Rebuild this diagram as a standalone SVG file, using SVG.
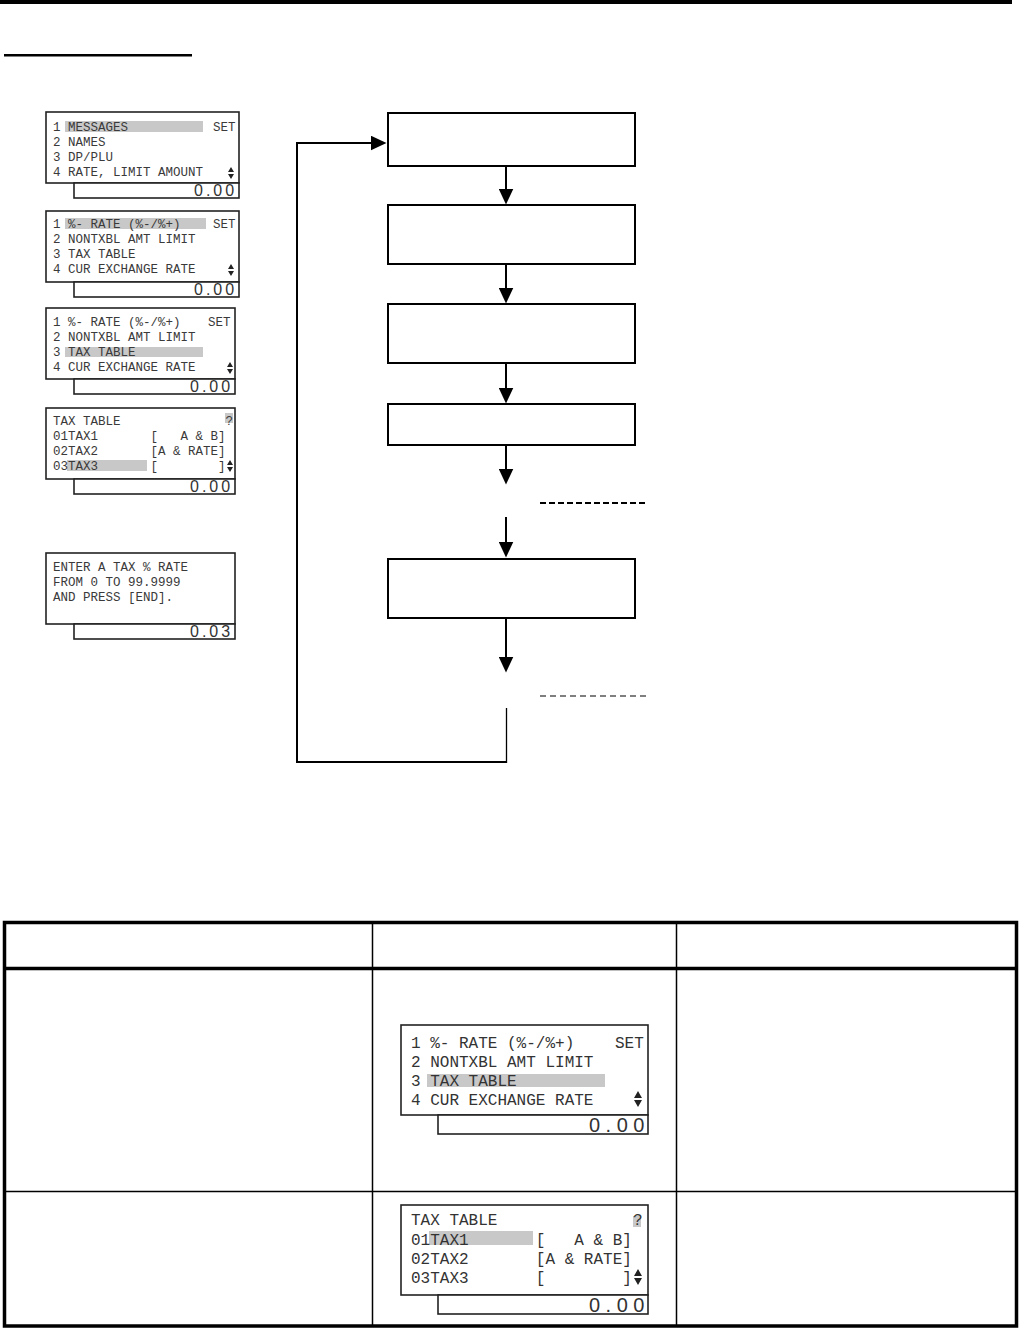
<svg xmlns="http://www.w3.org/2000/svg" width="1019" height="1328" viewBox="0 0 1019 1328">
<style>
.lcd{fill:#fff;stroke:#222;stroke-width:1.6}
.hl{fill:#c8c8c8}
.t{font-family:"Liberation Mono","Courier New",monospace;font-size:12.5px;fill:#3a3a3a}
.tb{font-family:"Liberation Mono","Courier New",monospace;font-size:16px;fill:#333}
.amt{font-family:"Liberation Sans",Arial,sans-serif;font-size:16px;letter-spacing:3px;fill:#333}
.amtb{font-family:"Liberation Sans",Arial,sans-serif;font-size:20px;letter-spacing:5.5px;fill:#333}
.dia{fill:#222}
.box{fill:#fff;stroke:#000;stroke-width:2}
.ln{fill:none;stroke:#000;stroke-width:2}
.tbl{fill:none;stroke:#000}
</style>
<defs>
<marker id="ah" markerUnits="userSpaceOnUse" viewBox="0 0 16 15" markerWidth="16" markerHeight="15" refX="0.5" refY="7.5" orient="auto">
<path d="M0,0 L16,7.5 L0,15 z" fill="#000"/>
</marker>
</defs>

<rect x="0" y="0" width="1012" height="4" fill="#000"/>
<rect x="4" y="54" width="188" height="2.5" fill="#000"/>

<!-- left screens -->
<g id="screen1" transform="translate(46,112)">
<rect class="lcd" x="0" y="0" width="193" height="71"/>
<rect class="lcd" x="28" y="71" width="165" height="15"/>
<rect class="hl" x="19" y="9" width="138" height="11"/>
<text class="t" x="7" y="19">1 MESSAGES</text>
<text class="t" x="167" y="19">SET</text>
<text class="t" x="7" y="34">2 NAMES</text>
<text class="t" x="7" y="49">3 DP/PLU</text>
<text class="t" x="7" y="64">4 RATE, LIMIT AMOUNT</text>
<path class="dia" d="M182,60 L188,60 L185,55 z M182,62 L188,62 L185,67 z"/>
<text class="amt" x="148" y="84">0.00</text>
</g>

<g id="screen2" transform="translate(46,211)">
<rect class="lcd" x="0" y="0" width="193" height="71"/>
<rect class="lcd" x="28" y="71" width="165" height="15"/>
<rect class="hl" x="19" y="7" width="141" height="11"/>
<text class="t" x="7" y="17">1 %- RATE (%-/%+)</text>
<text class="t" x="167" y="17">SET</text>
<text class="t" x="7" y="32">2 NONTXBL AMT LIMIT</text>
<text class="t" x="7" y="47">3 TAX TABLE</text>
<text class="t" x="7" y="62">4 CUR EXCHANGE RATE</text>
<path class="dia" d="M182,58 L188,58 L185,53 z M182,60 L188,60 L185,65 z"/>
<text class="amt" x="148" y="84">0.00</text>
</g>

<g id="screen3" transform="translate(46,308)">
<rect class="lcd" x="0" y="0" width="189" height="71"/>
<rect class="lcd" x="28" y="71" width="161" height="15"/>
<rect class="hl" x="19" y="39" width="138" height="10"/>
<text class="t" x="7" y="18">1 %- RATE (%-/%+)</text>
<text class="t" x="162" y="18">SET</text>
<text class="t" x="7" y="33">2 NONTXBL AMT LIMIT</text>
<text class="t" x="7" y="48">3 TAX TABLE</text>
<text class="t" x="7" y="63">4 CUR EXCHANGE RATE</text>
<path class="dia" d="M181,59 L187,59 L184,54 z M181,61 L187,61 L184,66 z"/>
<text class="amt" x="144" y="84">0.00</text>
</g>

<g id="screen4" transform="translate(46,408)">
<rect class="lcd" x="0" y="0" width="189" height="71"/>
<rect class="lcd" x="28" y="71" width="161" height="15"/>
<rect class="hl" x="179" y="5" width="8" height="10"/>
<rect class="hl" x="21" y="52" width="80" height="11"/>
<text class="t" x="7" y="17">TAX TABLE</text>
<text class="t" x="179.5" y="17">?</text>
<text class="t" x="7" y="32" xml:space="preserve">01TAX1       [   A &amp; B]</text>
<text class="t" x="7" y="47" xml:space="preserve">02TAX2       [A &amp; RATE]</text>
<text class="t" x="7" y="62" xml:space="preserve">03TAX3       [        ]</text>
<path class="dia" d="M181,57 L187,57 L184,52 z M181,59 L187,59 L184,64 z"/>
<text class="amt" x="144" y="84">0.00</text>
</g>

<g id="screen5" transform="translate(46,553)">
<rect class="lcd" x="0" y="0" width="189" height="71"/>
<rect class="lcd" x="28" y="71" width="161" height="15"/>
<text class="t" x="7" y="18">ENTER A TAX % RATE</text>
<text class="t" x="7" y="33">FROM 0 TO 99.9999</text>
<text class="t" x="7" y="48">AND PRESS [END].</text>
<text class="amt" x="144" y="84">0.03</text>
</g>

<!-- flowchart nodes -->
<g id="step1"><rect class="box" x="388" y="113" width="247" height="53"/></g>
<g id="step2"><rect class="box" x="388" y="205" width="247" height="59"/></g>
<g id="step3"><rect class="box" x="388" y="304" width="247" height="59"/></g>
<g id="step4"><rect class="box" x="388" y="404" width="247" height="41"/></g>
<g id="step5"><rect class="box" x="388" y="559" width="247" height="59"/></g>

<!-- connectors -->
<g id="connectors">
<line class="ln" x1="506" y1="166" x2="506" y2="189" marker-end="url(#ah)"/>
<line class="ln" x1="506" y1="264" x2="506" y2="288" marker-end="url(#ah)"/>
<line class="ln" x1="506" y1="363" x2="506" y2="388" marker-end="url(#ah)"/>
<line class="ln" x1="506" y1="445" x2="506" y2="469" marker-end="url(#ah)"/>
<line class="ln" x1="506" y1="517" x2="506" y2="542" marker-end="url(#ah)"/>
<line class="ln" x1="506" y1="618" x2="506" y2="657" marker-end="url(#ah)"/>
<line x1="540" y1="503" x2="648" y2="503" stroke="#000" stroke-width="2" stroke-dasharray="6 3"/>
<line x1="540" y1="696" x2="648" y2="696" stroke="#000" stroke-width="1.2" stroke-dasharray="6 4"/>
<line x1="506.5" y1="708" x2="506.5" y2="763" stroke="#000" stroke-width="1.3"/>
<polyline class="ln" points="506,762 297,762 297,143 371,143" marker-end="url(#ah)"/>
</g>

<!-- table -->
<g id="table">
<rect class="tbl" x="4.5" y="922.5" width="1012" height="403.5" stroke-width="3.5"/>
<line class="tbl" x1="4" y1="968.5" x2="1017" y2="968.5" stroke-width="3.5"/>
<line class="tbl" x1="4" y1="1191.5" x2="1017" y2="1191.5" stroke-width="1.5"/>
<line class="tbl" x1="372.5" y1="922" x2="372.5" y2="1326" stroke-width="1.5"/>
<line class="tbl" x1="676.5" y1="922" x2="676.5" y2="1326" stroke-width="1.5"/>
</g>

<g id="table-screen1" transform="translate(401,1025)">
<rect class="lcd" x="0" y="0" width="247" height="90"/>
<rect class="lcd" x="37" y="90" width="210" height="19"/>
<rect class="hl" x="26" y="49" width="178" height="13"/>
<text class="tb" x="10" y="22.5">1 %- RATE (%-/%+)</text>
<text class="tb" x="214" y="22.5">SET</text>
<text class="tb" x="10" y="41.5">2 NONTXBL AMT LIMIT</text>
<text class="tb" x="10" y="60.5">3 TAX TABLE</text>
<text class="tb" x="10" y="79.5">4 CUR EXCHANGE RATE</text>
<path class="dia" d="M233,73 L241,73 L237,66 z M233,75 L241,75 L237,82 z"/>
<text class="amtb" x="188" y="106.5">0.00</text>
</g>

<g id="table-screen2" transform="translate(401,1205)">
<rect class="lcd" x="0" y="0" width="247" height="90"/>
<rect class="lcd" x="37" y="90" width="210" height="19"/>
<rect class="hl" x="232" y="11" width="8" height="11"/>
<rect class="hl" x="28" y="26" width="104" height="14"/>
<text class="tb" x="10" y="20">TAX TABLE</text>
<text class="tb" x="232" y="20">?</text>
<text class="tb" x="10" y="39.5" xml:space="preserve">01TAX1       [   A &amp; B]</text>
<text class="tb" x="10" y="59" xml:space="preserve">02TAX2       [A &amp; RATE]</text>
<text class="tb" x="10" y="78" xml:space="preserve">03TAX3       [        ]</text>
<path class="dia" d="M233,71 L241,71 L237,64 z M233,73 L241,73 L237,80 z"/>
<text class="amtb" x="188" y="106.5">0.00</text>
</g>
</svg>
